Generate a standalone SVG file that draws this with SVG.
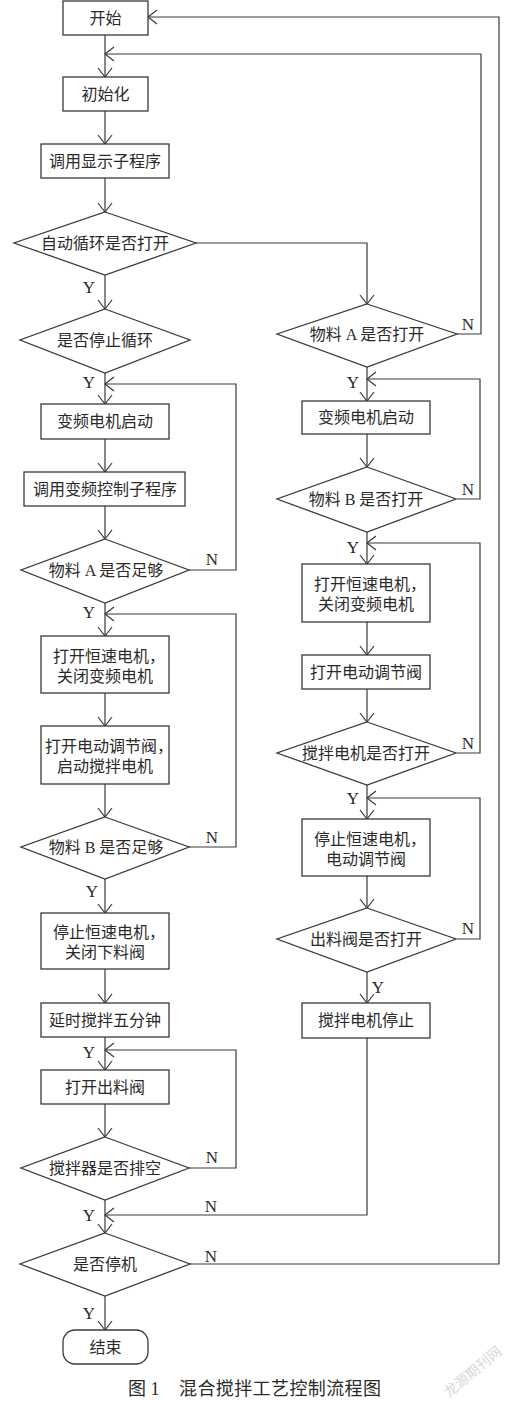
<svg xmlns="http://www.w3.org/2000/svg" width="514" height="1410" viewBox="0 0 514 1410">
<defs>
<marker id="ah" viewBox="-10 -8 11 16" markerWidth="11" markerHeight="16" refX="0" refY="0" markerUnits="userSpaceOnUse" orient="auto">
<path d="M-9,-7 L0,0 L-9,7" fill="none" stroke="#3a3a3a" stroke-width="1.2"/>
</marker>
</defs>
<style>
.s{fill:#fff;stroke:#3a3a3a;stroke-width:1.3}
.t{font-family:"Liberation Serif","Noto Sans CJK SC",serif;font-size:16px;fill:#2a2a2a;text-anchor:middle;dominant-baseline:central}
.l{font-family:"Liberation Serif",serif;font-size:17px;fill:#2a2a2a;text-anchor:middle;dominant-baseline:central}
.c{fill:none;stroke:#3a3a3a;stroke-width:1.2;marker-end:url(#ah)}
.cap{font-family:"Liberation Serif","Noto Sans CJK SC",serif;font-size:18px;fill:#2a2a2a;dominant-baseline:central}
</style>
<rect width="514" height="1410" fill="#fff"/>
<g id="connectors">
<path class="c" d="M105,35 V77"/>
<path class="c" d="M457,334 H481 V54 H105"/>
<path class="c" d="M190,1264 H499 V17 H148"/>
<path class="c" d="M105,111 V144"/>
<path class="c" d="M105,178 V212"/>
<path class="c" d="M105,275 V309"/>
<path class="c" d="M196,243 H367 V304"/>
<path class="c" d="M105,373 V404"/>
<path class="c" d="M189,570 H236 V384 H105"/>
<path class="c" d="M105,439 V472"/>
<path class="c" d="M105,506 V539"/>
<path class="c" d="M105,603 V636"/>
<path class="c" d="M189,847 H236 V614 H105"/>
<path class="c" d="M105,693 V726"/>
<path class="c" d="M105,784 V817"/>
<path class="c" d="M105,879 V913"/>
<path class="c" d="M105,969 V1003"/>
<path class="c" d="M105,1037 V1070"/>
<path class="c" d="M189,1168 H236 V1050 H105"/>
<path class="c" d="M105,1104 V1137"/>
<path class="c" d="M105,1200 V1233"/>
<path class="c" d="M367,1038 V1215 H105"/>
<path class="c" d="M105,1296 V1330"/>
<path class="c" d="M367,367 V401"/>
<path class="c" d="M457,499 H480 V379 H367"/>
<path class="c" d="M367,434 V467"/>
<path class="c" d="M367,532 V564"/>
<path class="c" d="M457,753 H480 V543 H367"/>
<path class="c" d="M367,622 V655"/>
<path class="c" d="M367,689 V722"/>
<path class="c" d="M367,785 V819"/>
<path class="c" d="M457,939 H480 V798 H367"/>
<path class="c" d="M367,876 V908"/>
<path class="c" d="M367,972 V1003"/>
<text class="l" x="89" y="287">Y</text>
<text class="l" x="89" y="382">Y</text>
<text class="l" x="89" y="612">Y</text>
<text class="l" x="92" y="891">Y</text>
<text class="l" x="89" y="1052">Y</text>
<text class="l" x="89" y="1215">Y</text>
<text class="l" x="89" y="1313">Y</text>
<text class="l" x="353" y="382">Y</text>
<text class="l" x="353" y="547">Y</text>
<text class="l" x="353" y="798">Y</text>
<text class="l" x="378" y="987">Y</text>
<text class="l" x="468" y="324">N</text>
<text class="l" x="212" y="559">N</text>
<text class="l" x="468" y="489">N</text>
<text class="l" x="212" y="837">N</text>
<text class="l" x="468" y="743">N</text>
<text class="l" x="468" y="928">N</text>
<text class="l" x="212" y="1157">N</text>
<text class="l" x="211" y="1206">N</text>
<text class="l" x="211" y="1256">N</text>
</g>
<g id="start"><rect class="s" x="63" y="1" width="85" height="34"/><text class="t" x="105.5" y="18">开始</text></g>
<g id="init"><rect class="s" x="63" y="77" width="85" height="34"/><text class="t" x="105.5" y="94">初始化</text></g>
<g id="display"><rect class="s" x="41" y="144" width="128" height="34"/><text class="t" x="105" y="161">调用显示子程序</text></g>
<g id="autoloop"><polygon class="s" points="105,212 196,243 105,275 14,243"/><text class="t" x="105" y="243">自动循环是否打开</text></g>
<g id="stoploop"><polygon class="s" points="105,309 190,340 105,373 20,340"/><text class="t" x="105" y="340">是否停止循环</text></g>
<g id="vfstart"><rect class="s" x="41" y="404" width="128" height="35"/><text class="t" x="105" y="421.5">变频电机启动</text></g>
<g id="vfctrl"><rect class="s" x="24" y="472" width="161" height="34"/><text class="t" x="105" y="489">调用变频控制子程序</text></g>
<g id="aenough"><polygon class="s" points="105,539 189,570 105,603 21,570"/><text class="t" x="106" y="570">物料 A 是否足够</text></g>
<g id="opencs"><rect class="s" x="41" y="636" width="128" height="57"/><text class="t" x="109" y="656">打开恒速电机，</text><text class="t" x="105" y="676">关闭变频电机</text></g>
<g id="openvalve"><rect class="s" x="41" y="726" width="128" height="58"/><text class="t" x="109" y="746">打开电动调节阀，</text><text class="t" x="105" y="766">启动搅拌电机</text></g>
<g id="benough"><polygon class="s" points="105,817 189,847 105,879 21,847"/><text class="t" x="106" y="847">物料 B 是否足够</text></g>
<g id="stopcs"><rect class="s" x="41" y="913" width="128" height="56"/><text class="t" x="109" y="932">停止恒速电机，</text><text class="t" x="105" y="952">关闭下料阀</text></g>
<g id="delay"><rect class="s" x="41" y="1003" width="128" height="34"/><text class="t" x="105" y="1020">延时搅拌五分钟</text></g>
<g id="openout"><rect class="s" x="41" y="1070" width="128" height="34"/><text class="t" x="105" y="1087">打开出料阀</text></g>
<g id="empty"><polygon class="s" points="105,1137 189,1168 105,1200 21,1168"/><text class="t" x="105" y="1168">搅拌器是否排空</text></g>
<g id="halt"><polygon class="s" points="105,1233 190,1264 105,1296 20,1264"/><text class="t" x="105" y="1264">是否停机</text></g>
<g id="end"><rect class="s" x="63" y="1330" width="85" height="34" rx="12"/><text class="t" x="105.5" y="1347">结束</text></g>
<g id="aopen"><polygon class="s" points="367,304 457,334 367,367 277,334"/><text class="t" x="367" y="334">物料 A 是否打开</text></g>
<g id="vfstart2"><rect class="s" x="302" y="401" width="128" height="33"/><text class="t" x="366" y="417.5">变频电机启动</text></g>
<g id="bopen"><polygon class="s" points="367,467 456,499 367,532 277,499"/><text class="t" x="366" y="499">物料 B 是否打开</text></g>
<g id="opencs2"><rect class="s" x="302" y="564" width="128" height="58"/><text class="t" x="370" y="584">打开恒速电机，</text><text class="t" x="366" y="604">关闭变频电机</text></g>
<g id="openvalve2"><rect class="s" x="302" y="655" width="128" height="34"/><text class="t" x="366" y="672">打开电动调节阀</text></g>
<g id="mixopen"><polygon class="s" points="367,722 456,753 367,785 277,753"/><text class="t" x="366" y="753">搅拌电机是否打开</text></g>
<g id="stopcs2"><rect class="s" x="302" y="819" width="128" height="57"/><text class="t" x="370" y="839">停止恒速电机，</text><text class="t" x="366" y="859">电动调节阀</text></g>
<g id="outopen"><polygon class="s" points="367,908 456,939 367,972 277,939"/><text class="t" x="366" y="939">出料阀是否打开</text></g>
<g id="mixstop"><rect class="s" x="302" y="1003" width="128" height="35"/><text class="t" x="366" y="1020.5">搅拌电机停止</text></g>
<g id="caption">
<text class="cap" x="128" y="1389">图 1</text>
<text class="cap" x="179" y="1389" textLength="202">混合搅拌工艺控制流程图</text>
<text x="472" y="1371" transform="rotate(-40 472 1371)" style="font-family:'Noto Sans CJK SC',sans-serif;font-size:14px;fill:#d8d8d8;text-anchor:middle;dominant-baseline:central">龙源期刊网</text>
</g>
</svg>
